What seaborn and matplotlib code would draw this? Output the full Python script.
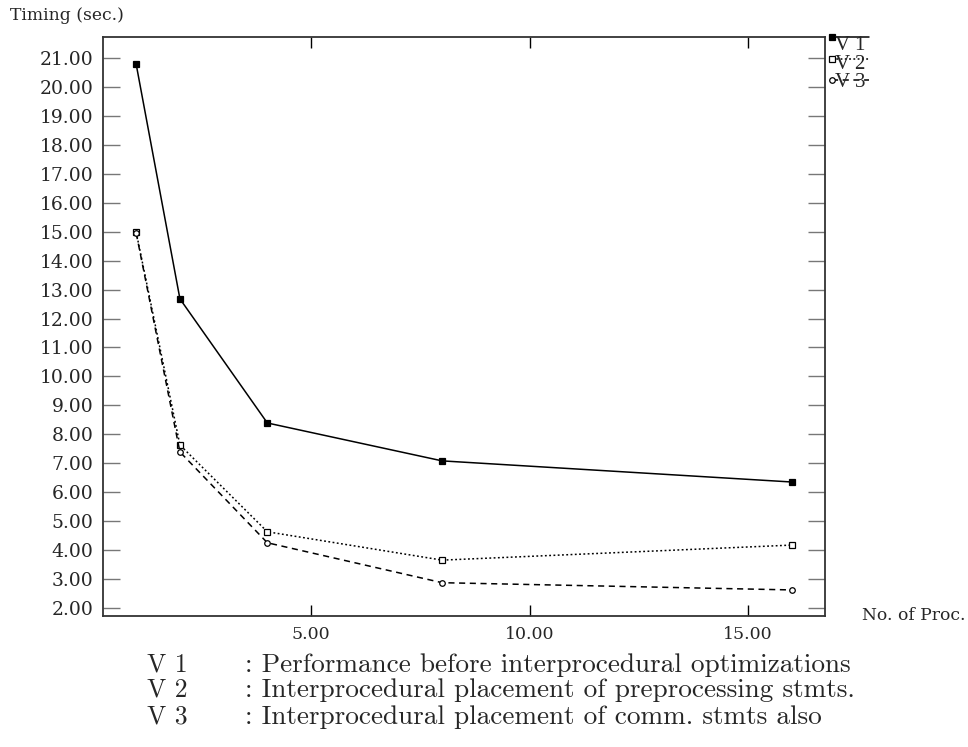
import numpy as np
import pandas as pd
import matplotlib
matplotlib.use('Agg')
import matplotlib.pyplot as plt
from matplotlib.lines import Line2D
import seaborn as sns

# datos
procs = [1, 2, 4, 8, 16]
v1 = [20.78, 12.68, 8.39, 7.08, 6.35]
v2 = [14.98, 7.63, 4.63, 3.65, 4.17]
v3 = [14.95, 7.39, 4.25, 2.87, 2.62]
series_names = ['V 1', 'V 2', 'V 3']
descriptions = [': Performance before interprocedural optimizations',
                ': Interprocedural placement of preprocessing stmts.',
                ': Interprocedural placement of comm. stmts also']
y_ticks = list(range(2, 22))
x_ticks = [5, 10, 15]

sns.set_style('white')
plt.rcParams['font.family'] = ['DejaVu Serif']

df = pd.DataFrame({
    'procs': procs * 3,
    'timing': v1 + v2 + v3,
    'version': sum([[n] * len(procs) for n in series_names], []),
})

styles = {
    'V 1': dict(ls='-', marker='s', mfc='black', dashes=None),
    'V 2': dict(ls=':', marker='s', mfc='white', dashes=(1.2, 1.6)),
    'V 3': dict(ls='--', marker='o', mfc='white', dashes=(4, 3)),
}

fig = plt.figure(figsize=(9.68, 7.47), dpi=100)
ax = fig.add_axes([0.1064, 0.1754, 0.7459, 0.7751])

for name in series_names:
    st = styles[name]
    sub = df[df['version'] == name]
    sns.lineplot(data=sub, x='procs', y='timing', ax=ax, color='black',
                 lw=1.1, marker=st['marker'], markersize=4,
                 markerfacecolor=st['mfc'], markeredgecolor='black',
                 markeredgewidth=0.9, legend=False)
    l = ax.lines[-1]
    if st['dashes']:
        l.set_dashes(st['dashes'])

ax.set_xlim(0.24, 16.76)
ax.set_ylim(1.72, 21.73)
ax.set_xticks(x_ticks)
ax.set_yticks(y_ticks)
ax.set_xticklabels([f'{t:.2f}' for t in x_ticks])
ax.set_yticklabels([f'{t:.2f}' for t in y_ticks])
ax.set_xlabel('')
ax.set_ylabel('')
ax.tick_params(axis='x', direction='in', length=8, width=1, color='black',
               top=True, bottom=True, labelsize=12.5, pad=7)
ax.tick_params(axis='y', direction='in', length=12, width=1, color='#777777',
               left=True, right=True, labelsize=13.5, pad=7)
for sp in ax.spines.values():
    sp.set_linewidth(1.3)
    sp.set_color('#333333')

# leyenda de la esquina superior derecha
leg_y = [1.0, 0.962, 0.926]
txt_y = [0.986, 0.953, 0.921]
for i, name in enumerate(series_names):
    st = styles[name]
    ln = Line2D([1.01, 1.061], [leg_y[i], leg_y[i]], transform=ax.transAxes,
                color='black', lw=1.1, ls=st['ls'], clip_on=False)
    if st['dashes']:
        ln.set_dashes(st['dashes'])
    ax.add_line(ln)
    ax.add_line(Line2D([1.01], [leg_y[i]], transform=ax.transAxes, marker=st['marker'],
                       markersize=4, mfc=st['mfc'], mec='black', mew=0.9,
                       clip_on=False, ls='none'))
    ax.text(1.0145, txt_y[i], name, transform=ax.transAxes, fontsize=15,
            ha='left', va='center', family='Liberation Serif')

fig.text(10 / 968, 1 - 16 / 747, 'Timing (sec.)', ha='left', va='center', fontsize=12.3)
fig.text(862 / 968, 1 - 615 / 747, 'No. of Proc.', ha='left', va='center', fontsize=12.3)

row_y = [665, 690, 717]
for i in range(3):
    fig.text(147 / 968, 1 - row_y[i] / 747, series_names[i], ha='left', va='center',
             fontsize=18.5, family='cmr10')
    fig.text(245 / 968, 1 - row_y[i] / 747, descriptions[i], ha='left', va='center',
             fontsize=19.6, family='cmr10')

fig.savefig('out.png', dpi=100)
